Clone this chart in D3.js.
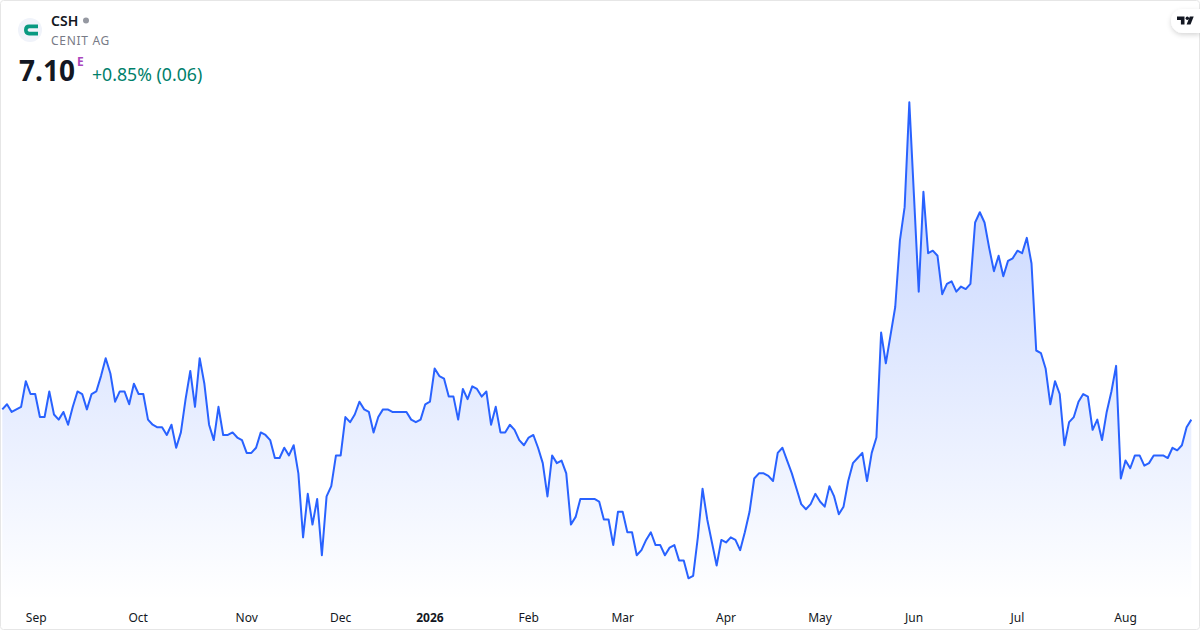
<!DOCTYPE html>
<html>
<head>
<meta charset="utf-8">
<script src="https://cdn.jsdelivr.net/npm/d3@7"></script>
<style>
  html, body { margin: 0; padding: 0; background: #fff; }
  svg { display: block; font-family: "Noto Sans", sans-serif; }
  .axis text { font-size: 12px; fill: #131722; }
</style>
</head>
<body>
<div id="chart"></div>
<script>
const closes = [
  7.18,7.22,7.16,7.18,7.20,7.40,7.30,7.30,7.12,7.12,
  7.32,7.14,7.10,7.16,7.06,7.20,7.32,7.30,7.18,7.30,
  7.32,7.44,7.58,7.46,7.24,7.32,7.32,7.22,7.38,7.30,
  7.30,7.10,7.06,7.04,7.04,6.98,7.06,6.88,7.00,7.26,
  7.48,7.20,7.58,7.38,7.06,6.94,7.20,6.98,6.98,7.00,
  6.96,6.94,6.84,6.84,6.88,7.00,6.98,6.94,6.80,6.80,
  6.88,6.82,6.90,6.68,6.18,6.52,6.28,6.48,6.04,6.50,
  6.58,6.82,6.82,7.12,7.08,7.14,7.24,7.18,7.16,7.00,
  7.12,7.18,7.18,7.16,7.16,7.16,7.16,7.10,7.08,7.10,
  7.22,7.24,7.50,7.44,7.42,7.28,7.28,7.10,7.34,7.26,
  7.36,7.34,7.28,7.32,7.06,7.20,7.00,7.00,7.06,7.02,
  6.94,6.90,6.96,6.98,6.88,6.76,6.50,6.82,6.76,6.78,
  6.68,6.28,6.34,6.48,6.48,6.48,6.48,6.46,6.32,6.32,
  6.12,6.38,6.38,6.22,6.22,6.04,6.08,6.16,6.22,6.12,
  6.12,6.04,6.10,6.12,6.00,6.00,5.86,5.88,6.18,6.56,
  6.32,6.14,5.96,6.16,6.14,6.18,6.16,6.08,6.22,6.38,
  6.64,6.68,6.68,6.66,6.62,6.84,6.88,6.78,6.68,6.56,
  6.44,6.40,6.44,6.52,6.46,6.42,6.58,6.50,6.36,6.42,
  6.62,6.76,6.80,6.84,6.62,6.84,6.96,7.78,7.54,7.76,
  7.98,8.50,8.76,9.58,8.84,8.10,8.88,8.40,8.42,8.38,
  8.08,8.16,8.18,8.10,8.14,8.12,8.16,8.64,8.72,8.64,
  8.44,8.26,8.38,8.22,8.34,8.36,8.42,8.40,8.52,8.32,
  7.64,7.62,7.50,7.22,7.40,7.30,6.90,7.08,7.12,7.24,
  7.30,7.28,7.02,7.10,6.94,7.16,7.32,7.52,6.64,6.78,
  6.72,6.82,6.82,6.74,6.76,6.82,6.82,6.82,6.80,6.88,
  6.86,6.90,7.04,7.10
];
const tickLabels = ["Sep","Oct","Nov","Dec","2026","Feb","Mar","Apr","May","Jun","Jul","Aug"];
const tickSessions = [7.1,28.8,51.9,71.9,90.9,111.9,131.9,153.9,173.9,193.9,215.9,238.9];

const width = 1200;
const height = 630;

const x = d3.scaleLinear().domain([0, closes.length - 1]).range([2.3, 1191.3]);
const y = d3.scaleLinear().domain([5.6, 9.58]).range([611.6, 102.2]);
const chartBottom = 600;

const svg = d3.select("#chart").append("svg")
  .attr("width", width)
  .attr("height", height)
  .attr("viewBox", `0 0 ${width} ${height}`);

const defs = svg.append("defs");

const grad = defs.append("linearGradient")
  .attr("id", "areaFill")
  .attr("gradientUnits", "userSpaceOnUse")
  .attr("x1", 0).attr("x2", 0)
  .attr("y1", y(d3.max(closes))).attr("y2", chartBottom);
grad.append("stop").attr("offset", 0).attr("stop-color", "#2962ff").attr("stop-opacity", 0.3);
grad.append("stop").attr("offset", 1).attr("stop-color", "#2962ff").attr("stop-opacity", 0);

const shadow = defs.append("filter").attr("id", "pillShadow")
  .attr("x", "-40%").attr("y", "-40%").attr("width", "180%").attr("height", "200%");
shadow.append("feDropShadow")
  .attr("dx", 0).attr("dy", 2).attr("stdDeviation", 2.5)
  .attr("flood-color", "#000").attr("flood-opacity", 0.16);

// card
svg.append("rect")
  .attr("x", 0.5).attr("y", 0.5)
  .attr("width", width - 1).attr("height", height - 1)
  .attr("rx", 3)
  .attr("fill", "#fff")
  .attr("stroke", "#e6e6e6");

const area = d3.area()
  .x((d, i) => x(i))
  .y0(chartBottom)
  .y1(d => y(d));

const line = d3.line()
  .x((d, i) => x(i))
  .y(d => y(d));

svg.append("path")
  .attr("d", area(closes))
  .attr("fill", "url(#areaFill)");

svg.append("path")
  .attr("d", line(closes))
  .attr("fill", "none")
  .attr("stroke", "#2962ff")
  .attr("stroke-width", 2)
  .attr("stroke-linejoin", "round");

// month axis
const xAxis = svg.append("g")
  .attr("class", "axis")
  .attr("transform", "translate(0,610)")
  .call(d3.axisBottom(x)
    .tickValues(tickSessions)
    .tickSize(0)
    .tickPadding(3)
    .tickFormat((d, i) => tickLabels[i]));
xAxis.attr("font-family", null).attr("font-size", null);
xAxis.select(".domain").remove();
xAxis.selectAll("text")
  .style("font-weight", (d, i) => tickLabels[i] === "2026" ? 700 : 400);

// header
const head = svg.append("g");

head.append("circle").attr("cx", 30).attr("cy", 30).attr("r", 12).attr("fill", "#f0f3fa");
head.append("path")
  .attr("d", "M24 30c0-3.6 2-5.4 5-5.4h9v3.6h-8.6a1.8 1.8 0 0 0 0 3.6h8.6v3.6h-9c-3 0-5-1.8-5-5.4Z")
  .attr("fill", "#089981");

head.append("text")
  .attr("x", 51).attr("y", 26)
  .attr("font-size", 14).attr("font-weight", 600)
  .attr("fill", "#131722")
  .text("CSH");
head.append("circle").attr("cx", 86).attr("cy", 20.5).attr("r", 3).attr("fill", "#9598a1");

head.append("text")
  .attr("x", 51).attr("y", 45)
  .attr("font-size", 12)
  .attr("letter-spacing", 0.7)
  .attr("fill", "#787b86")
  .text("CENIT AG");

head.append("text")
  .attr("x", 19).attr("y", 81)
  .attr("font-size", 28).attr("font-weight", 700)
  .attr("fill", "#131722")
  .text("7.10");
head.append("text")
  .attr("x", 77).attr("y", 66)
  .attr("font-size", 12).attr("font-weight", 700)
  .attr("fill", "#ab47bc")
  .text("E");
head.append("text")
  .attr("x", 92).attr("y", 81)
  .attr("font-size", 17.7)
  .attr("fill", "#00806a")
  .text("+0.85% (0.06)");

// logo pill, top right
const pill = svg.append("g");
pill.append("path")
  .attr("d", "M1200 9H1183a12 12 0 0 0 0 24H1200Z")
  .attr("fill", "#fff")
  .attr("filter", "url(#pillShadow)");
pill.append("path")
  .attr("d", "M1177 16.5h7.5v8h-3.6v-4.6h-3.9Z")
  .attr("fill", "#131722");
pill.append("circle").attr("cx", 1187.3).attr("cy", 18.2).attr("r", 1.7).attr("fill", "#131722");
pill.append("path")
  .attr("d", "M1189.8 16.5h3.9l-3.2 8h-3.9Z")
  .attr("fill", "#131722");
</script>
</body>
</html>
